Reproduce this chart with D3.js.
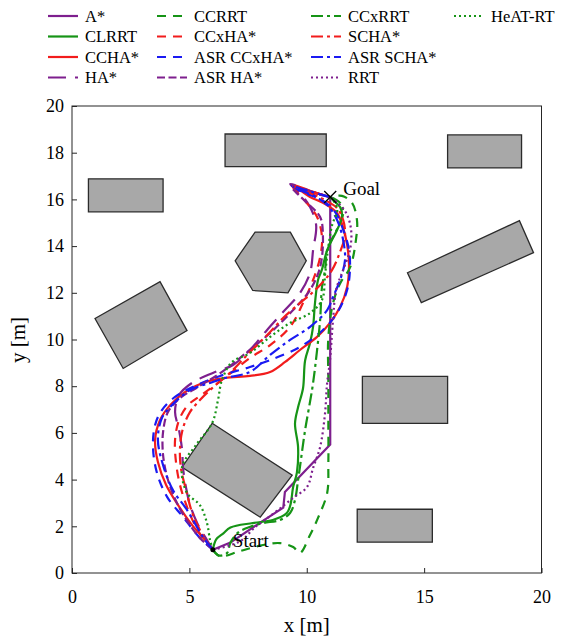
<!DOCTYPE html>
<html>
<head>
<meta charset="utf-8">
<script src="https://cdn.jsdelivr.net/npm/d3@7"></script>
<style>
  body { margin: 0; background: #fff; }
  text { font-family: "Liberation Serif", "Times New Roman", serif; fill: #000; }
</style>
</head>
<body>
<svg width="573" height="638"></svg>
<script>
// ---- data (metres) ----
const xTicks = [0, 5, 10, 15, 20];
const yTicks = [0, 2, 4, 6, 8, 10, 12, 14, 16, 18, 20];
const start = [6, 1];
const goal = [11, 16.1];

const obstacles = [
  [[0.7, 15.47], [3.88, 15.47], [3.88, 16.88], [0.7, 16.88]],
  [[6.52, 17.4], [10.83, 17.4], [10.83, 18.8], [6.52, 18.8]],
  [[16.0, 17.35], [19.15, 17.35], [19.15, 18.76], [16.0, 18.76]],
  [[6.95, 13.37], [7.8, 14.6], [9.3, 14.6], [9.98, 13.37], [9.2, 12.0], [7.7, 12.1]],
  [[0.98, 10.9], [3.75, 12.48], [4.9, 10.38], [2.18, 8.76]],
  [[14.29, 12.86], [19.06, 15.09], [19.66, 13.72], [14.88, 11.58]],
  [[12.37, 6.41], [16.0, 6.41], [16.0, 8.42], [12.37, 8.42]],
  [[12.15, 1.32], [15.35, 1.32], [15.35, 2.73], [12.15, 2.73]],
  [[5.97, 6.41], [9.38, 4.19], [8.02, 2.39], [4.69, 4.53]]
];

const aStar = [[6, 1], [6.75, 1.3], [8.0, 2.15], [9.0, 2.8], [9.07, 3.47], [11, 5.5], [11, 16.1]];
const clrrt = [[6, 1], [6.15, 1.45], [6.45, 1.7], [6.75, 1.95], [7.7, 2.14], [8.55, 2.27], [9.15, 2.57], [9.3, 2.9],
  [9.42, 3.68], [9.58, 4.3], [9.63, 5.4], [9.5, 6.4], [9.63, 7.1], [9.84, 7.9], [9.93, 9.1], [10.14, 9.85],
  [10.27, 10.55], [10.35, 11.55], [10.48, 12.55], [10.65, 13.0], [10.87, 13.83], [11.29, 14.69], [11.5, 15.25],
  [11.42, 15.67], [11.12, 15.97], [11, 16.1]];
const ccha = [[6, 1], [5.67, 1.41], [5.11, 2.06], [4.52, 2.91], [4.01, 3.77], [3.66, 4.75], [3.54, 5.7], [3.75, 6.55],
  [4.18, 7.19], [4.81, 7.75], [5.67, 8.18], [6.52, 8.35], [7.58, 8.44], [8.44, 8.61], [9.08, 9.04], [9.71, 9.55],
  [10.44, 10.11], [10.99, 10.71], [11.42, 11.39], [11.72, 12.25], [11.8, 13.19], [11.72, 14.05], [11.55, 14.78],
  [11.29, 15.42], [10.69, 15.85], [10.14, 16.1], [9.71, 16.4], [9.42, 16.62], [10.2, 16.35], [11, 16.1]];
const ha = [[6, 1], [5.75, 1.41], [5.37, 2.06], [5.03, 2.91], [4.86, 3.64], [4.73, 4.5], [4.69, 5.27], [4.56, 6.12],
  [4.39, 6.9], [4.56, 7.62], [5.11, 8.14], [6.0, 8.57], [6.86, 8.91], [7.58, 9.55], [8.31, 10.41], [8.95, 11.13],
  [9.71, 11.99], [10.14, 12.85], [10.27, 13.83], [10.4, 14.9], [10.14, 15.67], [9.71, 16.27], [9.29, 16.66],
  [10.14, 16.36], [11, 16.1]];
const ccrrt = [[6, 1], [6.3, 0.72], [7.16, 0.94], [8.14, 1.2], [8.86, 1.28], [9.42, 1.11], [9.71, 0.86], [10.14, 1.63],
  [10.48, 2.36], [10.87, 3.43], [10.92, 4.7], [10.92, 6.5], [10.92, 8.27], [10.92, 10.1], [11.12, 11.56], [11.42, 12.4],
  [11.85, 13.1], [12.1, 14.3], [12.14, 15.1], [11.93, 15.85], [11.5, 16.15], [11, 16.1]];
const ccxha = [[6, 1], [5.67, 1.37], [5.28, 1.97], [4.9, 2.83], [4.6, 3.77], [4.43, 4.75], [4.39, 5.7], [4.56, 6.55],
  [4.94, 7.19], [5.45, 7.58], [6.09, 8.05], [6.82, 8.61], [7.58, 9.21], [8.44, 9.76], [9.29, 10.54], [9.84, 11.56],
  [10.27, 12.55], [10.57, 13.53], [10.65, 14.39], [10.44, 15.25], [9.93, 15.93], [9.42, 16.53], [10.22, 16.32], [11, 16.1]];
const asrCcxha = [[6, 1], [5.45, 1.5], [4.73, 2.4], [4.05, 3.26], [3.62, 4.28], [3.45, 5.4], [3.54, 6.34], [3.83, 6.98],
  [4.39, 7.54], [5.24, 8.01], [6.31, 8.44], [7.58, 8.82], [8.44, 9.12], [9.71, 9.68], [10.69, 10.41], [11.29, 11.13],
  [11.72, 12.12], [11.84, 12.98], [11.8, 13.83], [11.59, 14.6], [11.21, 15.46], [10.65, 15.97], [9.93, 16.27],
  [9.5, 16.49], [10.27, 16.27], [11, 16.1]];
const asrHa = [[6, 1], [5.45, 1.5], [4.94, 2.18], [4.47, 3.0], [4.09, 3.98], [3.88, 5.05], [3.88, 6.04], [4.09, 6.9],
  [4.6, 7.49], [5.37, 7.97], [6.39, 8.61], [7.46, 9.46], [8.44, 10.28], [9.42, 11.26], [10.14, 12.12], [10.57, 13.1],
  [10.69, 14.39], [10.57, 15.25], [10.01, 15.85], [9.37, 16.53], [10.18, 16.32], [11, 16.1]];
const ccxrrt = [[6, 1], [6.25, 0.75], [6.6, 0.85], [6.75, 1.3], [7.1, 1.75], [7.6, 1.98], [8.14, 2.14], [8.86, 2.27],
  [9.29, 2.57], [9.5, 3.13], [9.63, 3.98], [9.71, 4.54], [9.93, 6.12], [10.25, 8.0], [10.44, 9.55], [10.57, 10.84],
  [10.65, 12.25], [10.78, 12.98], [10.87, 13.83], [11.12, 14.39], [11.42, 14.99], [11.55, 15.42], [11.42, 15.85], [11, 16.1]];
const scha = [[6, 1], [5.79, 1.28], [5.45, 1.84], [5.11, 2.61], [4.86, 3.55], [4.64, 4.5], [4.6, 5.35], [4.73, 6.21],
  [5.03, 6.9], [5.45, 7.41], [5.97, 7.92], [6.73, 8.57], [7.58, 9.46], [8.44, 10.32], [8.99, 10.92], [9.71, 11.56],
  [10.22, 11.99], [10.65, 12.42], [11.08, 12.98], [11.42, 13.75], [11.63, 14.47], [11.55, 15.12], [11.29, 15.63],
  [10.78, 15.97], [10.14, 16.27], [9.42, 16.57], [10.22, 16.32], [11, 16.1]];
const asrScha = [[6, 1], [5.58, 1.54], [4.9, 2.7], [4.3, 3.55], [3.88, 4.62], [3.66, 5.7], [3.83, 6.64], [4.26, 7.19],
  [5.03, 7.84], [5.88, 8.14], [6.52, 8.35], [7.58, 8.61], [8.44, 9.34], [9.29, 9.98], [10.14, 10.54], [10.87, 11.26],
  [11.12, 11.82], [11.42, 12.55], [11.63, 13.4], [11.55, 14.26], [11.33, 15.03], [10.99, 15.63], [10.48, 16.06],
  [9.8, 16.36], [9.37, 16.57], [10.22, 16.32], [11, 16.1]];
const rrt = [[6, 1], [6.65, 1.16], [7.24, 1.41], [7.8, 1.97], [8.22, 2.27], [8.78, 2.7], [9.41, 3.21], [10.01, 3.68],
  [10.27, 4.5], [10.57, 5.4], [10.78, 6.85], [10.86, 8.05], [10.99, 9.12], [11.12, 10.84], [11.25, 12.12],
  [11.55, 12.98], [11.84, 13.83], [11.89, 14.69], [11.68, 15.42], [11.33, 15.85], [11, 16.1]];
const heatRt = [[6, 1], [5.88, 1.41], [5.75, 2.14], [5.45, 2.91], [4.9, 3.43], [4.69, 4.54], [5.28, 5.48], [5.97, 6.42],
  [6.22, 7.41], [6.39, 8.27], [6.82, 9.04], [7.58, 9.42], [8.44, 10.11], [9.29, 10.71], [10.14, 11.13], [10.65, 11.69],
  [10.78, 12.76], [10.9, 13.83], [11.08, 14.9], [11.3, 15.55], [11.12, 15.97], [11, 16.1]];

const series = [
  { name: 'A*', pts: aStar, color: '#7e1f8e', dash: null, straight: true },
  { name: 'CLRRT', pts: clrrt, color: '#169416', dash: null },
  { name: 'CCHA*', pts: ccha, color: '#f21c1c', dash: null },
  { name: 'HA*', pts: ha, color: '#7e1f8e', dash: '18,9' },
  { name: 'CCRRT', pts: ccrrt, color: '#169416', dash: '9,7' },
  { name: 'CCxHA*', pts: ccxha, color: '#f21c1c', dash: '9,7' },
  { name: 'ASR CCxHA*', pts: asrCcxha, color: '#1a1af2', dash: '9,7' },
  { name: 'ASR HA*', pts: asrHa, color: '#7e1f8e', dash: '8,3.5' },
  { name: 'CCxRRT', pts: ccxrrt, color: '#169416', dash: '12,4,3,4' },
  { name: 'SCHA*', pts: scha, color: '#f21c1c', dash: '12,4,3,4' },
  { name: 'ASR SCHA*', pts: asrScha, color: '#1a1af2', dash: '12,4,3,4' },
  { name: 'RRT', pts: rrt, color: '#7e1f8e', dash: '2,3' },
  { name: 'HeAT-RT', pts: heatRt, color: '#169416', dash: '2,3' }
];

// ---- layout ----
const svg = d3.select('svg');
const x = d3.scaleLinear().domain([0, 20]).range([72, 541.5]);
const y = d3.scaleLinear().domain([0, 20]).range([573, 106]);

// obstacles
svg.append('g').selectAll('polygon')
  .data(obstacles)
  .enter()
  .append('polygon')
    .attr('points', d => d.map(p => [x(p[0]), y(p[1])].join(',')).join(' '))
    .attr('fill', '#a8a8a8')
    .attr('stroke', '#2b2b2b')
    .attr('stroke-width', 1.3);

// paths
const smooth = d3.line().x(d => x(d[0])).y(d => y(d[1])).curve(d3.curveCatmullRom.alpha(0.5));
const straight = d3.line().x(d => x(d[0])).y(d => y(d[1]));
svg.append('g').selectAll('path')
  .data(series)
  .enter()
  .append('path')
    .attr('d', d => (d.straight ? straight : smooth)(d.pts))
    .attr('fill', 'none')
    .attr('stroke', d => d.color)
    .attr('stroke-width', 2.2)
    .attr('stroke-dasharray', d => d.dash);

// start / goal markers
svg.append('circle')
  .attr('cx', x(start[0])).attr('cy', y(start[1])).attr('r', 2.5).attr('fill', '#000');
const gx = x(goal[0]), gy = y(goal[1]);
svg.append('path')
  .attr('d', `M${gx - 6},${gy - 6}L${gx + 6},${gy + 6}M${gx - 6},${gy + 6}L${gx + 6},${gy - 6}`)
  .attr('stroke', '#000').attr('stroke-width', 1.3);
svg.append('text').attr('x', gx + 13).attr('y', gy - 2).attr('font-size', 19).text('Goal');
svg.append('text').attr('x', x(start[0]) + 20).attr('y', y(start[1]) - 3).attr('font-size', 19).text('Start');

// axes
const xAxis = svg.append('g').attr('transform', 'translate(0,573)')
  .call(d3.axisBottom(x).tickValues(xTicks).tickSizeInner(-5).tickSizeOuter(0).tickPadding(17));
const yAxis = svg.append('g').attr('transform', 'translate(72,0)')
  .call(d3.axisLeft(y).tickValues(yTicks).tickSizeInner(-5).tickSizeOuter(0).tickPadding(8));
[xAxis, yAxis].forEach(g => {
  g.select('.domain').remove();
  g.selectAll('line').attr('stroke', '#262626');
  g.selectAll('text').attr('font-size', 18).attr('fill', '#000');
});
svg.append('rect')
  .attr('x', 72).attr('y', 106).attr('width', 541.5 - 72).attr('height', 573 - 106)
  .attr('fill', 'none').attr('stroke', '#262626').attr('stroke-width', 1);

svg.append('text').attr('x', (72 + 541.5) / 2).attr('y', 632).attr('text-anchor', 'middle')
  .attr('font-size', 21).text('x [m]');
svg.append('text').attr('transform', 'translate(25,340) rotate(-90)').attr('text-anchor', 'middle')
  .attr('font-size', 21).text('y [m]');

// legend, column-major 4 rows
const colLine = [48, 157, 311, 454];
const rowY = [16, 36.5, 57, 77.5];
const leg = svg.append('g').selectAll('g')
  .data(series)
  .enter()
  .append('g')
    .attr('transform', (d, i) => `translate(${colLine[Math.floor(i / 4)]},${rowY[i % 4]})`);
leg.append('line')
  .attr('x1', 0).attr('x2', 30).attr('y1', 0).attr('y2', 0)
  .attr('stroke', d => d.color)
  .attr('stroke-width', 2.2)
  .attr('stroke-dasharray', d => d.dash);
leg.append('text')
  .attr('x', 37).attr('y', 0).attr('dy', '0.35em')
  .attr('font-size', 16.5)
  .text(d => d.name);
</script>
</body>
</html>
